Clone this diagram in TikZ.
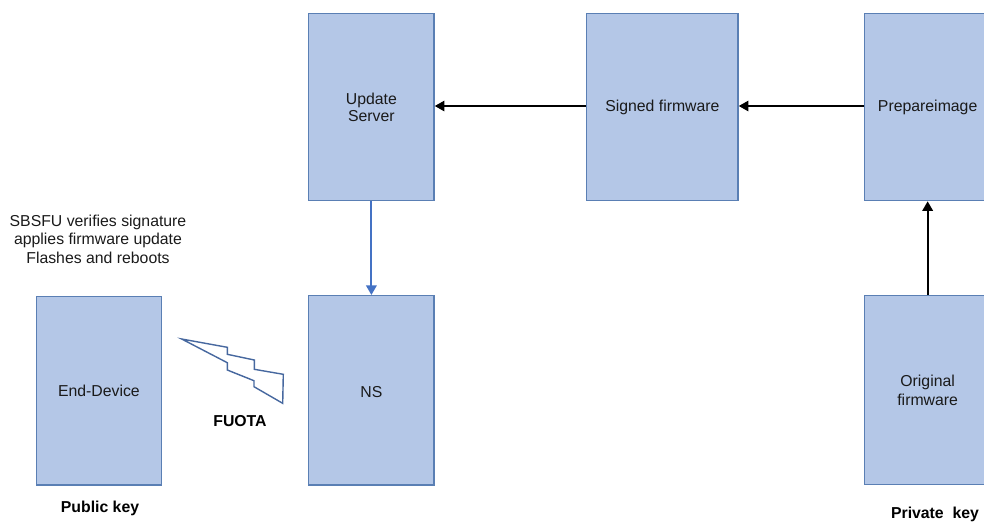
\documentclass[tikz,border=0pt]{standalone}
\usepackage{fontspec}
\setmainfont{Liberation Sans}
\usetikzlibrary{arrows.meta}

\definecolor{boxfill}{HTML}{B4C7E7}
\definecolor{boxline}{HTML}{5A7FB4}
\definecolor{linkblue}{HTML}{4472C4}
\definecolor{lightline}{HTML}{47689F}
\definecolor{inktext}{HTML}{1A1A1A}
\tikzset{
    block/.style={draw=boxline, fill=boxfill, line width=0.75pt, anchor=north west,
        inner sep=0pt, align=center, text=inktext, font=\fontsize{9}{10.5}\selectfont},
    note/.style={inner sep=0pt, align=center, text=inktext, font=\fontsize{9}{10.5}\selectfont},
    keynote/.style={inner sep=0pt, font=\fontsize{9}{10}\selectfont\bfseries},
    flow/.style={line width=0.85pt, -{Triangle[length=5.5pt,width=6pt]}},
}

\begin{document}
\begin{tikzpicture}[x=0.02cm,y=-0.02cm]
    \useasboundingbox (0,0) rectangle (984,522);
    % top row
    \node[block, minimum width=2.51cm, minimum height=3.74cm] (server) at (308,13) {Update\\[-0.5pt]Server};
    \node[block, minimum width=3.03cm, minimum height=3.74cm] (signed) at (586,13) {Signed firmware};
    \node[block, minimum width=2.52cm, minimum height=3.74cm, text width=2.52cm] (prepare) at (864,13) {Prepareimage};
    % bottom row
    \node[block, minimum width=2.51cm, minimum height=3.78cm] (device) at (35.5,295.5) {End-Device};
    \node[block, minimum width=2.51cm, minimum height=3.79cm] (ns) at (308,295) {\raisebox{-1pt}[6.5pt][0pt]{NS}};
    \node[block, minimum width=2.52cm, minimum height=3.78cm] (original) at (864,295) {Original\\firmware};
    % labels
    \node[note] (verify) at (98,239) {SBSFU verifies signature\\[0.1pt]applies firmware update\\[0.1pt]Flashes and reboots};
    \node[keynote] (fuota) at (240,421) {FUOTA};
    \node[keynote] (public) at (100,508) {Public key};
    \node[keynote] (private) at (935,514) {Private\ \ key};
    % connectors
    \draw[flow] (signed.west |- 0,106) -- (server.east |- 0,106);
    \draw[flow] (prepare.west |- 0,106) -- (signed.east |- 0,106);
    \draw[flow, line width=1.1pt] (original.north) -- (prepare.south);
    \draw[flow, line width=1.1pt, draw=linkblue, fill=linkblue] (server.south) -- (ns.north);
    % radio link
    \draw[draw=lightline, line width=0.8pt, line join=miter]
        (181.7,339) -- (227.3,347.3) -- (227.3,354.3) -- (254.3,360) -- (254.3,369.3)
        -- (283.3,374.3) -- (282.7,403.3) -- (254,386.7) -- (254,380.7) -- (227.3,370)
        -- (227.3,362.7) -- cycle;
\end{tikzpicture}
\end{document}
